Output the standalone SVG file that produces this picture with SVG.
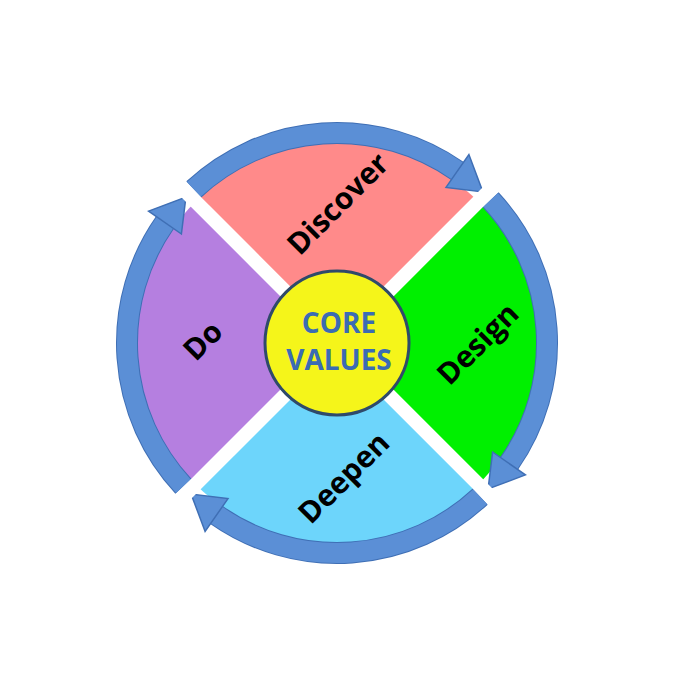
<svg xmlns="http://www.w3.org/2000/svg" width="687" height="687" viewBox="0 0 687 687">
<defs>
<style>
.ring{fill:none;stroke:#5b8fd6;stroke-width:20}
.ringe{fill:none;stroke:#3f6fb5;stroke-width:22}
.head{fill:#5b8fd6;stroke:#3f6fb5;stroke-width:1.5}
.lbl{font-family:"Open Sans","Liberation Sans",sans-serif;font-weight:bold;font-size:30px;fill:#000;text-anchor:middle;dominant-baseline:central}
.core{font-family:"Open Sans","Liberation Sans",sans-serif;font-weight:bold;font-size:28px;fill:#3b6cb3;text-anchor:middle}
</style>
<g id="arrowTpl">
<path class="ringe" d="M193.8,189.4 A210,210 0 0 1 457.5,171.0"/>
<path class="ring" d="M193.8,189.4 A210,210 0 0 1 457.5,171.0"/>
<polygon class="head" points="446.0,187.4 468.9,154.6 482.9,191.9"/>
</g>
</defs>
<rect width="687" height="687" fill="#fff"/>
<g id="sectors">
<g id="discover"><path d="M337,343 L195.6,201.6 A200,200 0 0 1 478.4,201.6 Z" fill="#ff8a8a"/></g>
<g id="design"><path d="M337,343 L478.4,201.6 A200,200 0 0 1 478.4,484.4 Z" fill="#00f000"/></g>
<g id="deepen"><path d="M337,343 L478.4,484.4 A200,200 0 0 1 195.6,484.4 Z" fill="#6dd5fb"/></g>
<g id="do"><path d="M337,343 L195.6,484.4 A200,200 0 0 1 195.6,201.6 Z" fill="#b57fe0"/></g>
</g>
<g id="connectors">
<use href="#arrowTpl"/>
<use href="#arrowTpl" transform="rotate(90 337 343)"/>
<use href="#arrowTpl" transform="rotate(180 337 343)"/>
<use href="#arrowTpl" transform="rotate(270 337 343)"/>
</g>
<g id="gaps" stroke="#fff" stroke-width="14">
<line x1="170" y1="176" x2="504" y2="510"/>
<line x1="504" y1="176" x2="170" y2="510"/>
</g>
<g id="core">
<circle cx="337" cy="343" r="72" fill="#f5f51a" stroke="#2f4a6a" stroke-width="3"/>
<text class="core" x="339" y="333">CORE</text>
<text class="core" x="339" y="370">VALUES</text>
</g>
<g id="labels">
<text class="lbl" transform="translate(337,203) rotate(-45)">Discover</text>
<text class="lbl" transform="translate(477,343) rotate(-45)">Design</text>
<text class="lbl" transform="translate(343,477) rotate(-45)">Deepen</text>
<text class="lbl" transform="translate(202,340) rotate(-45)">Do</text>
</g>
</svg>
